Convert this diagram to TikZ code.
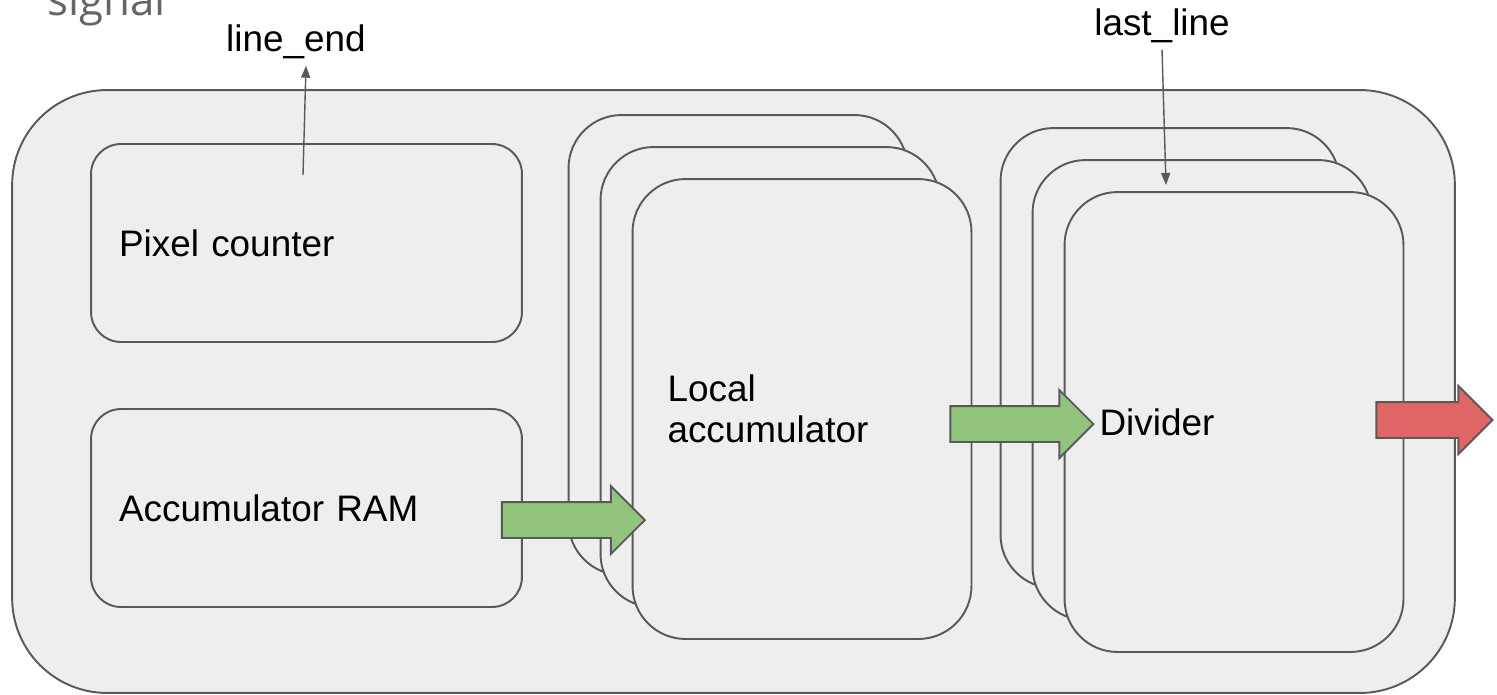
\documentclass[tikz,border=0pt]{standalone}
\usepackage{fontspec}
\setmainfont{Liberation Sans}
\newfontfamily\slidefont{Open Sans}
\usetikzlibrary{shapes,arrows,arrows.meta,positioning,calc}
\definecolor{linegray}{RGB}{89,89,89}
\definecolor{boxgray}{RGB}{238,238,238}
\definecolor{flowgreen}{RGB}{147,196,125}
\definecolor{outred}{RGB}{224,102,102}
\definecolor{titlegray}{RGB}{102,102,102}

\begin{document}
\begin{tikzpicture}[x=0.02cm, y=-0.02cm,
  box/.style={draw=linegray, fill=boxgray, line width=1.1pt, inner sep=0pt},
  unitbox/.style={box, rounded corners=0.6cm, minimum width=8.62cm, minimum height=3.96cm,
    text width=7.5cm, inner xsep=0.56cm, align=left, font=\fontsize{21}{23.3}\selectfont},
  stackbox/.style={box, rounded corners=1.06cm, minimum width=6.78cm, minimum height=9.2cm,
    text width=5.38cm, inner xsep=0.7cm, align=left, font=\fontsize{21}{23.3}\selectfont},
  fatarrow/.style={single arrow, draw=linegray, line width=1.1pt, inner xsep=0pt, inner ysep=0.34cm,
    single arrow head extend=0.32cm, anchor=tail},
  sig/.style={draw=linegray, line width=0.8pt, -{Triangle[length=0.24cm, width=0.18cm]}},
  sigtext/.style={font=\fontsize{21}{23.3}\selectfont, anchor=base, inner sep=4pt}]
  \clip (0,0) rectangle (1497,694);

  % outer block
  \node[box, rounded corners=1.9cm, minimum width=28.86cm, minimum height=12.06cm] (engine) at (733.5,391.5) {};

  \node[unitbox] (pixcnt) at (306.5,243) {Pixel counter};
  \node[unitbox] (accram) at (306.5,508) {Accumulator RAM};

  % stacked local accumulators
  \node[stackbox] (lacc3) at (738,345) {};
  \node[stackbox] (lacc2) at (770,377) {};
  \node[stackbox] (lacc) at (802,409) {Local\\accumulator};

  % stacked dividers
  \node[stackbox] (div3) at (1170,358) {};
  \node[stackbox] (div2) at (1202,390) {};
  \node[stackbox] (divider) at (1234,422) {Divider};

  % data flow
  \node[fatarrow, fill=flowgreen, minimum height=2.86cm] (ramtoacc) at ($(accram.east)+(-22,12)$) {};
  \node[fatarrow, fill=flowgreen, minimum height=2.86cm] (acctodiv) at ($(lacc.east)+(-23,15)$) {};
  \node[fatarrow, fill=outred, minimum height=2.32cm] (divout) at ($(divider.east)+(-29,-2)$) {};

  % control signals
  \node[sigtext] (lineend) at (296,51) {line\_end};
  \node[sigtext] (lastline) at (1162,35) {last\_line};
  \coordinate (pcout) at (303,175);
  \coordinate (divin) at (1166,185);
  \draw[sig] (pcout) -- ([xshift=0.2cm]lineend.south);
  \draw[sig] (lastline.south) -- (divin);

  \node[font=\slidefont\fontsize{25}{30}\selectfont, text=titlegray, anchor=base west, inner sep=0pt] (sigtitle) at (47,15) {signal};
\end{tikzpicture}
\end{document}
